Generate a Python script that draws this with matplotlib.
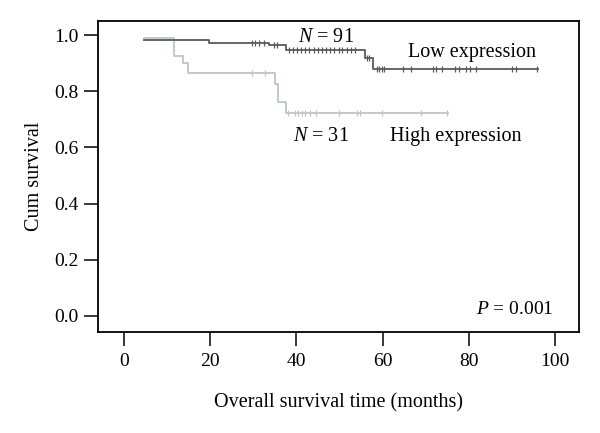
import numpy as np
import matplotlib
matplotlib.use('Agg')
import matplotlib.pyplot as plt

plt.rcParams['font.family'] = ['Liberation Serif', 'DejaVu Serif']
plt.rcParams['mathtext.fontset'] = 'custom'
plt.rcParams['mathtext.rm'] = 'Liberation Serif'
plt.rcParams['mathtext.it'] = 'Liberation Serif:italic'

# Low expression group (N = 91): step times, survival after each step, censored times
low_times = [4.6, 19.7, 33.7, 37.7, 55.9, 57.7, 96.0]
low_surv = [0.982, 0.971, 0.963, 0.948, 0.918, 0.880, 0.880]
low_censor = [29.6, 30.5, 31.4, 32.5, 34.7, 35.5,
              38.2, 39.2, 40.1, 41.1, 42.0, 43.0, 44.0, 45.0, 45.9, 46.9,
              47.8, 48.8, 49.8, 50.7, 51.7, 52.7, 53.7, 56.3, 56.8,
              58.6, 59.2, 59.8, 60.4, 64.8, 66.7, 71.7, 72.5, 73.7,
              76.8, 77.7, 79.3, 80.2, 81.6, 90.1, 90.9, 95.9]

# High expression group (N = 31)
high_times = [4.6, 11.5, 13.6, 14.9, 35.1, 35.8, 37.7, 75.2]
high_surv = [0.990, 0.926, 0.900, 0.865, 0.826, 0.763, 0.723, 0.723]
high_censor = [29.6, 32.7, 38.0, 39.6, 40.4, 41.2, 42.1, 43.1, 44.5,
               49.8, 54.0, 54.7, 59.9, 68.9, 75.0]

low_color = '#5a5a5a'
high_color = '#bcc7c5'


def surv_at(times, surv, t):
    idx = np.searchsorted(times, t, side='right') - 1
    return np.array(surv)[idx]


fig = plt.figure(figsize=(6, 4.33), dpi=100)
ax = fig.add_axes([0.163, 0.2335, 0.802, 0.718])

ax.step(high_times, high_surv, where='post', color=high_color, lw=1.3)
ax.plot(high_censor, surv_at(high_times, high_surv, high_censor), ls='none',
        marker='|', ms=5, mew=0.9, color=high_color)

ax.step(low_times, low_surv, where='post', color=low_color, lw=1.3)
ax.plot(low_censor, surv_at(low_times, low_surv, low_censor), ls='none',
        marker='|', ms=5, mew=0.9, color=low_color)

ax.set_xlim(-6.1, 105.6)
ax.set_ylim(-0.057, 1.05)
ax.set_xticks([0, 20, 40, 60, 80, 100])
ax.set_yticks([0.0, 0.2, 0.4, 0.6, 0.8, 1.0])
ax.set_yticklabels(['0.0', '0.2', '0.4', '0.6', '0.8', '1.0'])
ax.tick_params(direction='out', length=10, width=1.1, labelsize=14)
ax.tick_params(axis='y', pad=4)
ax.tick_params(axis='x', pad=5)
for s in ax.spines.values():
    s.set_linewidth(1.3)

ax.set_xlabel('Overall survival time (months)', fontsize=14.5, labelpad=17)
ax.set_ylabel('Cum survival', fontsize=14.5, labelpad=7)

ax.text(40.3, 0.975, '$N$ = 91', fontsize=14.5)
ax.text(65.9, 0.922, 'Low expression', fontsize=14.5)
ax.text(39.2, 0.624, '$N$ = 31', fontsize=14.5)
ax.text(61.7, 0.624, 'High expression', fontsize=14.5)
ax.text(81.8, 0.007, '$P$ = 0.001', fontsize=14)

plt.savefig('out.png', dpi=100)
